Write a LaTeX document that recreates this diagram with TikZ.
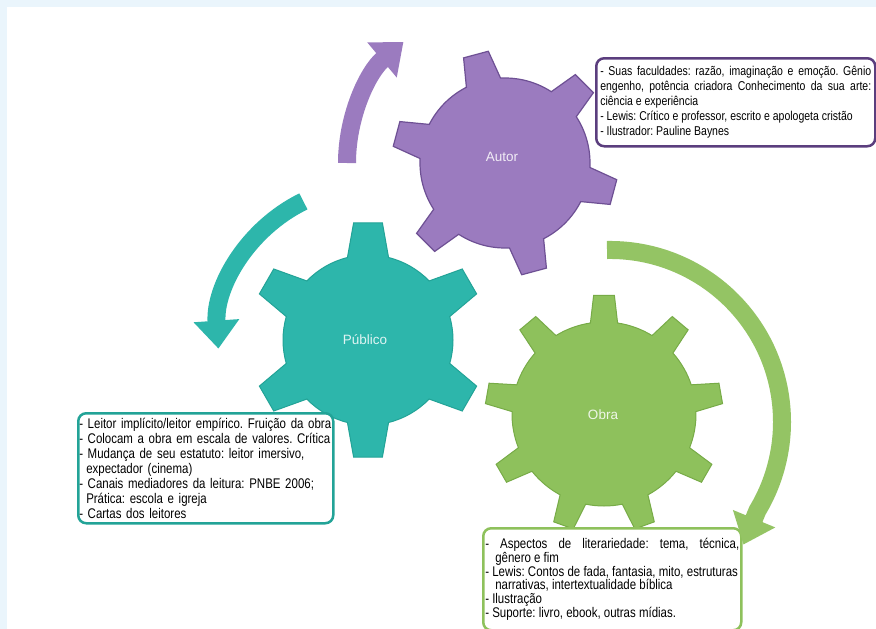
\documentclass[tikz,border=0pt]{standalone}
\usepackage{fontspec}
\setmainfont{Liberation Sans}[FakeStretch=0.82]
\newfontfamily\gearfont{Liberation Sans}
\usetikzlibrary{arrows.meta}
\setlength{\parindent}{0pt}
\lineskiplimit=-10pt
\frenchspacing

\definecolor{bgblue}{HTML}{EAF5FC}
\definecolor{autorfill}{HTML}{9B7BBF}
\definecolor{autorline}{HTML}{6E5094}
\definecolor{autorbox}{HTML}{5B3E7E}
\definecolor{publicofill}{HTML}{2DB6AB}
\definecolor{publicoline}{HTML}{22A397}
\definecolor{obrafill}{HTML}{8EC15C}
\definecolor{obraline}{HTML}{77AB47}

% [style]{centre}{teeth}{first tooth}{body r}{tip r}{half base}{half tip}
\newcommand{\gear}[8][]{%
  \filldraw[#1,shift={(#2)}] ({#4+#7}:#5)
  \foreach \k in {1,...,#3}{
    arc[start angle={#4+(\k-1)*360/#3+#7}, end angle={#4+\k*360/#3-#7}, radius=#5]
    -- ({#4+\k*360/#3-#8}:#6) -- ({#4+\k*360/#3+#8}:#6)
    -- ({#4+\k*360/#3+#7}:#5)}
  -- cycle;}

\begin{document}
\begin{tikzpicture}[x=1pt,y=-1pt,
  txtbox/.style={draw, fill=white, line width=2.5pt, rounded corners=8pt,
    anchor=north west, inner ysep=0pt},
  gearlabel/.style={font=\gearfont\fontsize{13.5}{15}\selectfont},
  turn/.style={line width=18pt, -{Triangle[width=44pt,length=28pt]}}]
\useasboundingbox (0,0) rectangle (876,629);
\fill[bgblue] (0,0) rectangle (876,629);
\fill[white] (7,7) rectangle (876,629);

\coordinate (autorc) at (505,163);
\coordinate (publicoc) at (368,340);
\coordinate (obrac) at (604,414);

\gear[fill=autorfill, draw=autorline, line width=1.2pt]{autorc}{6}{15}{85}{113}{12}{6.5}
\gear[fill=publicofill, draw=publicoline, line width=1pt]{publicoc}{6}{30}{85}{118}{14}{7}
\gear[fill=obrafill, draw=obraline, line width=1pt]{obrac}{9}{30}{92}{119}{8.5}{5}

\node[gearlabel, text=white!85!autorfill] (autor) at (502,157) {Autor};
\node[gearlabel, text=white!85!publicofill] (publico) at (365,340) {Público};
\node[gearlabel, text=white!85!obrafill] (obra) at (603,415) {Obra};

\node[txtbox, draw=autorbox, text width=271pt, inner xsep=4pt, minimum height=88pt,
  align=justify, font=\fontsize{12.8}{14.8}\selectfont] (autortxt) at (595,57)
  {- Suas faculdades: razão, imaginação e  emoção. Gênio\linebreak
   engenho, potência criadora Conhecimento da sua arte:\linebreak
   ciência e experiência\\
   - Lewis: Crítico e professor, escrito e apologeta cristão\\
   - Ilustrador: Pauline Baynes};

\node[txtbox, draw=publicoline, text width=253pt, inner xsep=1pt, minimum height=110pt,
  align=left, font=\fontsize{14}{15}\selectfont] (publicotxt) at (77,412)
  {- Leitor implícito/leitor empírico. Fruição da obra\\
   - Colocam a obra em escala de valores. Crítica\\
   - Mudança de seu estatuto: leitor imersivo,\\
   \hspace*{7pt}expectador (cinema)\\
   - Canais mediadores da leitura: PNBE 2006;\\
   \hspace*{7pt}Prática: escola e igreja\\
   - Cartas dos leitores};

\node[txtbox, draw=obrafill, text width=254pt, inner xsep=2pt, minimum height=102pt,
  align=justify, font=\fontsize{14}{13.8}\selectfont] (obratxt) at (482,527)
  {-\ Aspectos de literariedade: tema, técnica,\linebreak
   \hspace*{10pt}gênero e fim\\
   - Lewis: Contos de fada, fantasia, mito, estruturas\\
   \hspace*{10pt}narrativas, intertextualidade bíblica\\
   - Ilustração\\
   - Suporte: livro, ebook, outras mídias.};

\draw[turn, autorfill] (347,163) arc[start angle=180, end angle=230, radius=158];
\draw[turn, publicofill] (303.4,201.4) arc[start angle=-116, end angle=-184, radius=152];
\draw[turn, obrafill!95!white] (607,250) arc[start angle=-91, end angle=31, radius=172]
  -- ++(-14,34);
\end{tikzpicture}
\end{document}
